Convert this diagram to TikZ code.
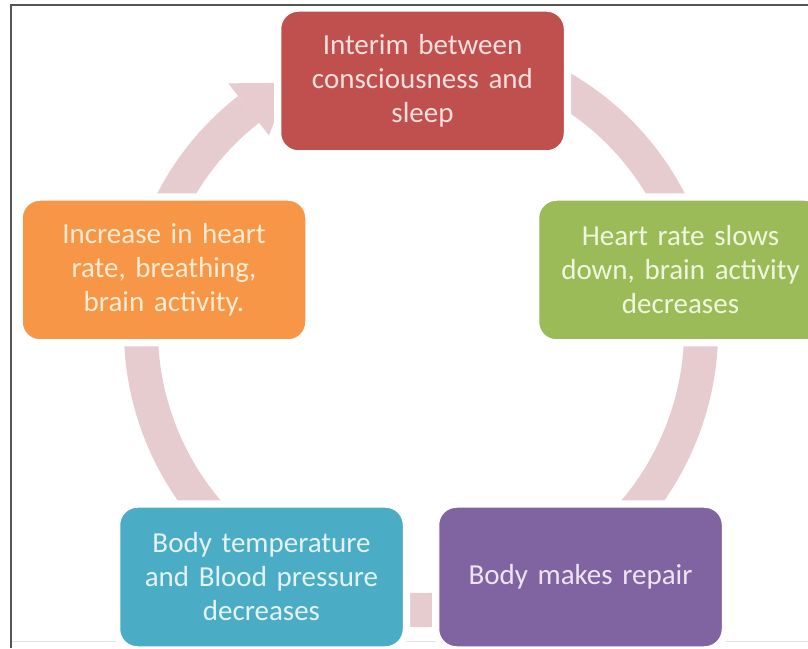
\documentclass[tikz,border=0pt]{standalone}
\usepackage{fontspec}
\setmainfont[WordSpace=0.8]{Carlito}
\usetikzlibrary{calc}
\definecolor{boxred}{HTML}{C0504D}
\definecolor{boxgreen}{HTML}{9BBB59}
\definecolor{boxorange}{HTML}{F79646}
\definecolor{boxcyan}{HTML}{4BACC6}
\definecolor{boxpurple}{HTML}{8064A2}
\definecolor{ringc}{HTML}{E6CBCF}
\definecolor{txtred}{HTML}{F8DFDF}
\definecolor{txtgreen}{HTML}{F0F6DC}
\definecolor{txtorange}{HTML}{FDEBD2}
\definecolor{txtcyan}{HTML}{E3F3F7}
\definecolor{txtpurple}{HTML}{EEE4F4}
\definecolor{framec}{HTML}{555555}
\begin{document}
\begin{tikzpicture}[x=1pt,y=1pt,
  box/.style={rectangle, rounded corners=18pt, minimum width=284pt, minimum height=140pt,
    inner sep=4pt, text width=272pt, align=center, font=\fontsize{29}{34}\selectfont,
    draw=white, line width=1.5pt, preaction={draw=white, line width=13pt}},
  ringline/.style={draw=ringc, line width=34pt, line cap=butt},
  framel/.style={draw=framec, line width=2pt}]
\useasboundingbox (0,0) rectangle (808,648);
\clip (0,0) rectangle (808,648);
\fill[white] (0,0) rectangle (808,648);
% faint bottom line
\draw[draw=black!12, line width=1pt] (11,7) -- (808,7);
% ring
\coordinate (C) at (421,318);
\draw[ringline] ($(C)+(70:280)$) arc[start angle=70, end angle=-232, radius=280];
\fill[ringc] ($(C)+(128:247)$) -- ($(C)+(128:313)$) -- ($(C)+(118:280)$) -- cycle;
% boxes
\node[box, fill=boxred, text=txtred] (interim) at (422.5,567) {Interim between\\consciousness and\\sleep};
\node[box, fill=boxgreen, text=txtgreen] (heart) at (680.5,378) {Heart rate slows\\down, brain activity\\decreases};
\node[box, fill=boxpurple, text=txtpurple] (repair) at (580.5,71) {Body makes repair};
\node[box, fill=boxcyan, text=txtcyan] (temp) at (261.5,71) {Body temperature\\and Blood pressure\\decreases};
\node[box, fill=boxorange, text=txtorange] (incr) at (164,378) {Increase in heart\\rate, breathing,\\brain activity.};
% frame
\draw[framel] (11,0) -- (11,643) -- (808,643);
\end{tikzpicture}
\end{document}
